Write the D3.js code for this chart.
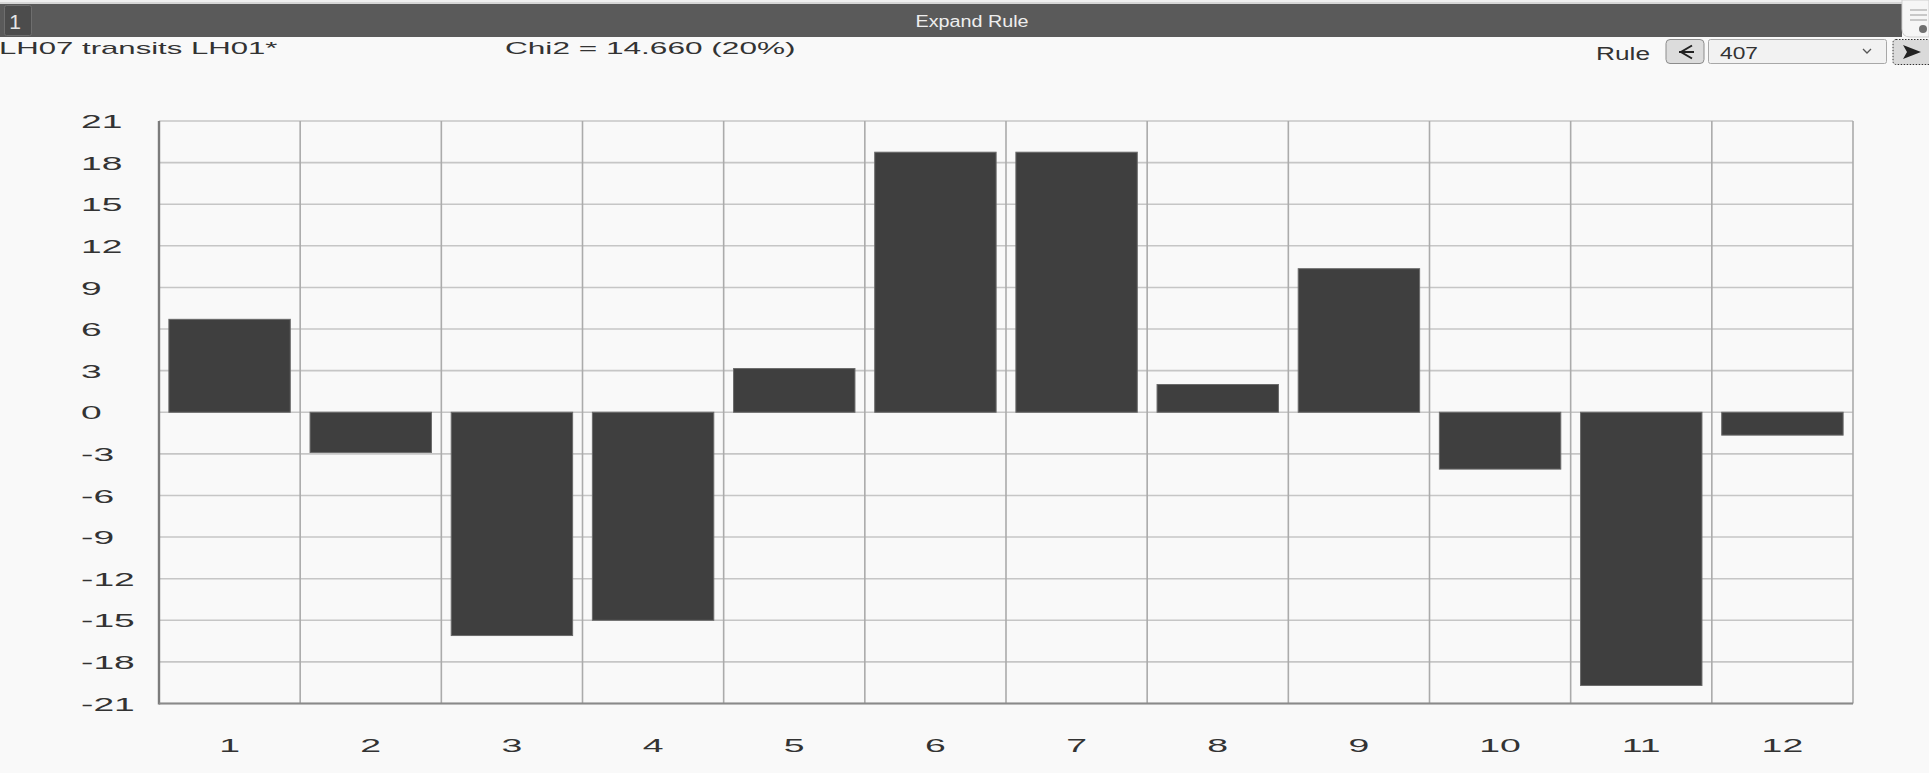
<!DOCTYPE html>
<html>
<head>
<meta charset="utf-8">
<script src="https://cdn.jsdelivr.net/npm/d3@7"></script>
<style>
  html, body { margin: 0; padding: 0; background: #f9f9f9; overflow: hidden; }
  svg { display: block; font-family: "Liberation Sans", Arial, sans-serif; }
</style>
</head>
<body>
<svg id="chart" width="1929" height="773"></svg>
<script>
// ---- data ----
const categories = ["1", "2", "3", "4", "5", "6", "7", "8", "9", "10", "11", "12"];
const values = [6.7, -2.9, -16.1, -15.0, 3.15, 18.75, 18.75, 2.0, 10.35, -4.1, -19.7, -1.65];
const yTicks = [-21, -18, -15, -12, -9, -6, -3, 0, 3, 6, 9, 12, 15, 18, 21];
const titleText = "Expand Rule";
const tabLabel = "1";
const ruleName = "LH07 transits LH01*";
const chiText = "Chi2 = 14.660 (20%)";
const ruleLabel = "Rule";
const ruleValue = "407";

(function () {
const W = 1929, H = 773;
const svg = d3.select("#chart");

// ---- header bar ----
svg.append("rect").attr("x", 0).attr("y", 0).attr("width", W).attr("height", 4).attr("fill", "#efefef");
svg.append("line").attr("x1", 0).attr("x2", W).attr("y1", 3).attr("y2", 3).attr("stroke", "#bdbdbd").attr("stroke-width", 1);
svg.append("rect").attr("x", 0).attr("y", 4).attr("width", 1902).attr("height", 33).attr("fill", "#5a5a5a");
svg.append("rect").attr("x", 4.5).attr("y", 5.5).attr("width", 27).attr("height", 30).attr("rx", 2)
  .attr("fill", "#4c4c4c").attr("stroke", "#6e6e6e").attr("stroke-width", 1);
svg.append("text").attr("x", 15).attr("y", 29).attr("text-anchor", "middle")
  .attr("font-size", 21).attr("fill", "#e6e6e6").text(tabLabel);
svg.append("text").attr("x", 972).attr("y", 27).attr("text-anchor", "middle")
  .attr("font-size", 16).attr("fill", "#eeeeee")
  .attr("textLength", 113).attr("lengthAdjust", "spacingAndGlyphs").text(titleText);

// top-right icon panel
svg.append("path")
  .attr("d", "M1902,0 H1929 V37 H1910 Q1902,37 1902,29 Z")
  .attr("fill", "#f6f6f6").attr("stroke", "#cfcfcf");
[10, 15, 20].forEach(yy => {
  svg.append("line").attr("x1", 1910).attr("x2", 1927).attr("y1", yy).attr("y2", yy)
    .attr("stroke", "#b8b8b8").attr("stroke-width", 1.5);
});
svg.append("circle").attr("cx", 1923).attr("cy", 29).attr("r", 4).attr("fill", "#707070");

// ---- sub header ----
function stretched(x, y, str, size, sx, anchor, fill) {
  return svg.append("text")
    .attr("transform", `translate(${x},${y}) scale(${sx},1)`)
    .attr("text-anchor", anchor || "start")
    .attr("font-size", size)
    .attr("fill", fill || "#333")
    .text(str);
}
stretched(-1, 54, ruleName, 15.8, 1.97, "start", "#333");
stretched(505, 54, chiText, 15.8, 2.0, "start", "#333");

// Rule controls
svg.append("text").attr("x", 1596).attr("y", 59.5).attr("font-size", 17.5).attr("fill", "#333")
  .attr("textLength", 54).attr("lengthAdjust", "spacingAndGlyphs").text(ruleLabel);
svg.append("rect").attr("x", 1666).attr("y", 39.5).attr("width", 38).attr("height", 24).attr("rx", 4)
  .attr("fill", "#dcdcdc").attr("stroke", "#8c8c8c");
svg.append("path").attr("d", "M1679,52 H1694 M1692,45.5 L1681,52 L1692,58.5")
  .attr("fill", "none").attr("stroke", "#222").attr("stroke-width", 2);
svg.append("rect").attr("x", 1708.5).attr("y", 39.5).attr("width", 178).attr("height", 24).attr("rx", 2)
  .attr("fill", "#f2f2f2").attr("stroke", "#a8a8a8");
svg.append("text").attr("x", 1720).attr("y", 58.5).attr("font-size", 16.3).attr("fill", "#333")
  .attr("textLength", 38).attr("lengthAdjust", "spacingAndGlyphs").text(ruleValue);
svg.append("path").attr("d", "M1863,49 L1867,53 L1871,49")
  .attr("fill", "none").attr("stroke", "#555").attr("stroke-width", 1.3);
svg.append("rect").attr("x", 1893).attr("y", 39.5).attr("width", 40).attr("height", 25).attr("rx", 3)
  .attr("fill", "#dadada").attr("stroke", "#333").attr("stroke-dasharray", "1.5,1.5");
svg.append("path").attr("d", "M1903,45 L1921,52 L1903,59 L1907,52 Z").attr("fill", "#222");

// ---- plot ----
const pLeft = 159, pRight = 1853, pTop = 121, pBottom = 703.5;
const x = d3.scaleBand().domain(categories).range([pLeft, pRight]).padding(0);
const y = d3.scaleLinear().domain([d3.min(yTicks), d3.max(yTicks)]).range([pBottom, pTop]);

const grid = svg.append("g");
grid.selectAll("line.h").data(yTicks).join("line")
  .attr("x1", pLeft).attr("x2", pRight)
  .attr("y1", d => y(d)).attr("y2", d => y(d))
  .attr("stroke", "#c6c6c6").attr("stroke-width", 1.6);
const vx = categories.map(c => x(c)).concat([pRight]);
grid.selectAll("line.v").data(vx.slice(1)).join("line")
  .attr("x1", d => d).attr("x2", d => d)
  .attr("y1", pTop).attr("y2", pBottom)
  .attr("stroke", "#ababab").attr("stroke-width", 1.6);

// bars
const inset = x.bandwidth() * 0.07;
svg.append("g").selectAll("rect").data(values).join("rect")
  .attr("x", (d, i) => x(categories[i]) + inset)
  .attr("width", x.bandwidth() - 2 * inset)
  .attr("y", d => y(Math.max(0, d)))
  .attr("height", d => Math.abs(y(d) - y(0)))
  .attr("fill", "#3f3f3f")
  .attr("stroke", "#6a6a6a").attr("stroke-width", 1);

// axis frame lines
svg.append("line").attr("x1", pLeft).attr("x2", pLeft).attr("y1", pTop).attr("y2", pBottom + 1)
  .attr("stroke", "#7c7c7c").attr("stroke-width", 2.4);
svg.append("line").attr("x1", pLeft).attr("x2", pRight).attr("y1", pBottom).attr("y2", pBottom)
  .attr("stroke", "#8a8a8a").attr("stroke-width", 2);

// y axis labels
const yAxis = d3.axisLeft(y).tickValues(yTicks).tickSize(0).tickFormat(d => String(d));
const yg = svg.append("g").attr("transform", `translate(${pLeft},0)`).call(yAxis);
yg.select(".domain").remove();
yg.selectAll("text")
  .attr("transform", "scale(2,1)")
  .attr("x", (81 - pLeft) / 2)
  .attr("dy", "0.36em")
  .attr("text-anchor", "start")
  .attr("font-size", 18.6)
  .attr("font-family", "Liberation Sans, Arial, sans-serif")
  .attr("fill", "#333");

// x axis labels
const xAxis = d3.axisBottom(x).tickSize(0);
const xg = svg.append("g").attr("transform", `translate(0,${pBottom})`).call(xAxis);
xg.select(".domain").remove();
xg.selectAll("text")
  .attr("transform", "scale(2,1)")
  .attr("x", 0)
  .attr("y", 752 - pBottom)
  .attr("dy", 0)
  .attr("font-size", 18.7)
  .attr("font-family", "Liberation Sans, Arial, sans-serif")
  .attr("fill", "#333");
})();
</script>
</body>
</html>
